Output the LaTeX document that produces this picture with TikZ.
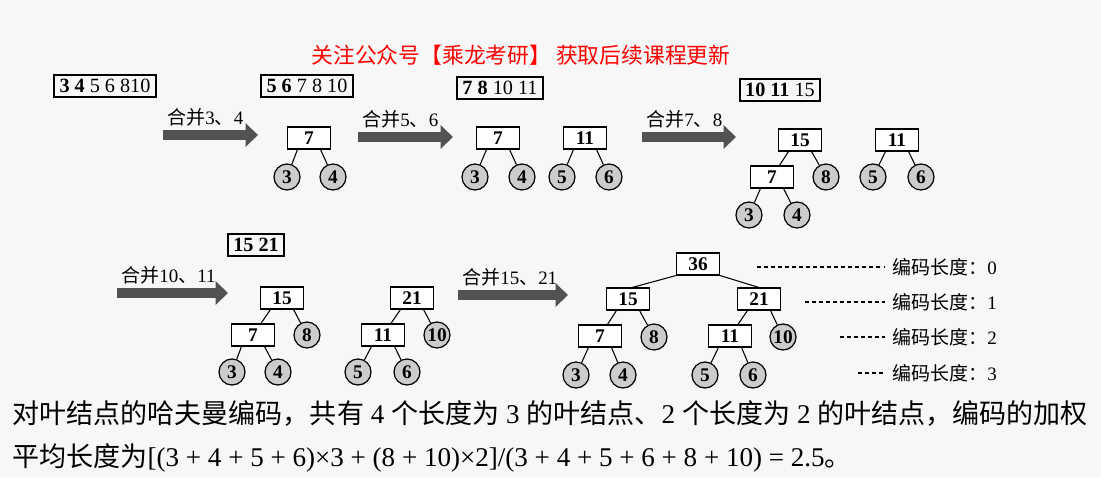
\documentclass[tikz,border=0pt]{standalone}
\usepackage{fontspec}
\setmainfont{Liberation Serif}
\newfontfamily\cjk{Noto Sans CJK SC}
\usetikzlibrary{arrows.meta,positioning}
\newcommand\zh[1]{{\cjk #1}}

\tikzset{
  tbox/.style={draw, line width=0.6pt, fill=white, minimum width=0.86cm, minimum height=0.44cm,
    inner sep=0pt, font=\fontsize{11}{12}\selectfont\bfseries},
  leaf/.style={circle, draw, line width=0.7pt, fill=black!20, minimum size=0.52cm,
    inner sep=0pt, font=\fontsize{11}{12}\selectfont\bfseries},
  qbox/.style={draw, line width=1pt, inner xsep=3pt, inner ysep=2.5pt, font=\fontsize{11.5}{12}\selectfont},
  merge/.style={line width=5.7pt, black!68, -{Triangle[length=7pt,width=13pt]}},
  mlabel/.style={anchor=west, inner sep=0pt, font=\fontsize{10.8}{12}\selectfont},
  lvl/.style={anchor=west, inner xsep=4pt, inner ysep=0pt, font=\fontsize{10.8}{12}\selectfont},
  lead/.style={line width=0.6pt, dash pattern=on 2.2pt off 1.8pt},
  para/.style={anchor=west, inner sep=0pt, font=\fontsize{15.4}{18}\selectfont},
}

\begin{document}
\begin{tikzpicture}[x=0.02cm, y=-0.02cm]
\fill[black!3] (0,0) rectangle (1101,477);
\useasboundingbox (0,0) rectangle (1101,477);

\node[font=\fontsize{12.4}{13}\selectfont, text=red, inner sep=0pt] (wm) at (521,55)
  {\zh{关注公众号【乘龙考研】 获取后续课程更新}};

% lists of weights
\node[qbox] (q1) at (105,86) {\textbf{3 4} 5 6 810};
\node[qbox] (q2) at (307,86) {\textbf{5 6} 7 8 10};
\node[qbox] (q3) at (500,88) {\textbf{7 8} 10 11};
\node[qbox] (q4) at (780,90) {\textbf{10 11} 15};
\node[qbox] (q5) at (256,245) {\textbf{15 21}};

% merge arrows
\foreach \i/\xa/\xb/\y/\lbl in {
    1/163/258/135/{\zh{合并}3\zh{、}4},
    2/358/453/137/{\zh{合并}5\zh{、}6},
    3/642/736/137/{\zh{合并}7\zh{、}8},
    4/117/228/293/{\zh{合并}10\zh{、}11},
    5/458/568/295/{\zh{合并}15\zh{、}21}}{
  \coordinate (a\i s) at (\xa,\y);
  \coordinate (a\i e) at (\xb,\y);
  \draw[merge] (a\i s) -- (a\i e);
  \node[mlabel] (m\i) at (\xa+4,\y-18) {\lbl};
}

% inner nodes
\foreach \n/\x/\y/\t in {A7/309/138/7, B7/498/138/7, B11/585/138/11,
    C15/800/140/15, C7/772/177/7, C11/897/140/11,
    D15/282/298/15, D7/253/335/7, D21/412/298/21, D11/383/335/11,
    E36/698/264/36, E15/628/299/15, E21/759/299/21, E7/600/336/7, E11/730/336/11}
  \node[tbox] (\n) at (\x,\y) {\t};

% leaves
\foreach \n/\x/\y/\t in {A3/287/177/3, A4/333/177/4,
    B3/475/177/3, B4/522/177/4, B5/562/177/5, B6/609/177/6,
    C8/826/177/8, C3/749/215/3, C4/797/215/4, C5/873/177/5, C6/921/177/6,
    D8/307/335/8, D3/232/372/3, D4/278/372/4, D10/437/335/10, D5/358/372/5, D6/407/372/6,
    E8/654/337/8, E10/783/337/10, E3/576/375/3, E4/623/375/4, E5/705/375/5, E6/753/375/6}
  \node[leaf] (\n) at (\x,\y) {\t};

\foreach \p/\l/\r in {A7/A3/A4, B7/B3/B4, B11/B5/B6, C15/C7/C8, C7/C3/C4, C11/C5/C6,
    D15/D7/D8, D7/D3/D4, D21/D11/D10, D11/D5/D6,
    E15/E7/E8, E21/E11/E10, E7/E3/E4, E11/E5/E6}{
  \draw[line width=0.6pt] (\p.-135) -- (\l);
  \draw[line width=0.6pt] (\p.-45) -- (\r);
}
\draw[line width=0.6pt] (E36.south west) -- (E15.70);
\draw[line width=0.6pt] (E36.south east) -- (E21.north);

% code lengths
\foreach \i/\xs/\y in {0/757/267, 1/805/302, 2/840/337, 3/858/373}{
  \node[lvl] (lv\i) at (885,\y) {\zh{编码长度：}\i};
  \coordinate (ld\i) at (\xs,\y);
  \draw[lead] (ld\i) -- (lv\i);
}

\node[para] (p1) at (12,413) {\zh{对叶结点的哈夫曼编码，共有} 4 \zh{个长度为} 3 \zh{的叶结点、}2 \zh{个长度为} 2 \zh{的叶结点，编码的加权}};
\node[para] (p2) at (12,458) {\zh{平均长度为}[(3 + 4 + 5 + 6)×3 + (8 + 10)×2]/(3 + 4 + 5 + 6 + 8 + 10) = 2.5\zh{。}};
\end{tikzpicture}
\end{document}
